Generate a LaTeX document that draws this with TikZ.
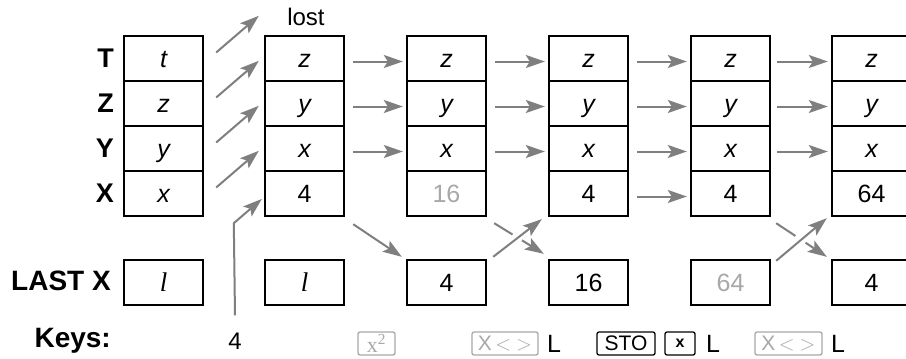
\documentclass[tikz,border=0pt]{standalone}
\usepackage{fontspec}
\setmainfont{Liberation Sans}
\newfontfamily\serifit{Liberation Serif}
\usetikzlibrary{arrows.meta,calc}
\definecolor{arrgray}{HTML}{7F7F7F}
\definecolor{txtgray}{HTML}{A8A8A8}
\begin{document}
\begin{tikzpicture}[x=1pt,y=-1pt,
  cell/.style={draw, line width=2.4pt, minimum width=79pt, minimum height=45pt,
    inner sep=0pt, text height=18pt, text depth=0pt, font=\fontsize{25}{27}\selectfont},
  arr/.style={draw=arrgray, line width=2pt, -{Stealth[length=19pt,width=13pt,inset=4pt]}},
  seg/.style={draw=arrgray, line width=2pt},
  lab/.style={font=\bfseries\fontsize{27}{30}\selectfont, anchor=base east, inner sep=0pt},
  biglab/.style={font=\bfseries\fontsize{28}{30}\selectfont, anchor=base east, inner sep=0pt},
  keybox/.style={draw, rounded corners=2pt, line width=1.3pt, minimum height=23pt,
    inner sep=0pt, font=\fontsize{21}{22}\selectfont},
  graykey/.style={keybox, draw=txtgray, text=txtgray},
  plain/.style={font=\fontsize{24}{26}\selectfont, anchor=base, inner sep=0pt},
  lkey/.style={font=\fontsize{25}{26}\selectfont, anchor=base, inner sep=0pt},
  ltr/.style={font=\serifit\itshape\fontsize{27}{28}\selectfont}]
\clip (0,0) rectangle (906,359);
\fill[white] (0,0) rectangle (906,359);

% row labels
\node[lab] (lT) at (114,67) {T};
\node[lab] (lZ) at (114,112) {Z};
\node[lab] (lY) at (114,157) {Y};
\node[lab] (lX) at (114,202) {X};
\node[biglab] (lL) at (111,290) {LAST X};
\node[biglab] (lK) at (111,347) {Keys:};
\node[plain] (lost) at (306,25) {lost};

% stack a
\node[cell] (a1) at (163.5,58.5) {\itshape t};
\node[cell] (a2) at (163.5,103.5) {\itshape z};
\node[cell] (a3) at (163.5,148.5) {\itshape y};
\node[cell] (a4) at (163.5,193.5) {\itshape x};
\node[cell, ltr] (aL) at (163.5,282.5) {l};
% stack b
\node[cell] (b1) at (304.5,58.5) {\itshape z};
\node[cell] (b2) at (304.5,103.5) {\itshape y};
\node[cell] (b3) at (304.5,148.5) {\itshape x};
\node[cell] (b4) at (304.5,193.5) {4};
\node[cell, ltr] (bL) at (304.5,282.5) {l};
% stack c
\node[cell] (c1) at (446.5,58.5) {\itshape z};
\node[cell] (c2) at (446.5,103.5) {\itshape y};
\node[cell] (c3) at (446.5,148.5) {\itshape x};
\node[cell, text=txtgray] (c4) at (446.5,193.5) {16};
\node[cell] (cL) at (446.5,282.5) {4};
% stack d
\node[cell] (d1) at (588.5,58.5) {\itshape z};
\node[cell] (d2) at (588.5,103.5) {\itshape y};
\node[cell] (d3) at (588.5,148.5) {\itshape x};
\node[cell] (d4) at (588.5,193.5) {4};
\node[cell] (dL) at (588.5,282.5) {16};
% stack e
\node[cell] (e1) at (730.5,58.5) {\itshape z};
\node[cell] (e2) at (730.5,103.5) {\itshape y};
\node[cell] (e3) at (730.5,148.5) {\itshape x};
\node[cell] (e4) at (730.5,193.5) {4};
\node[cell, text=txtgray] (eL) at (730.5,282.5) {64};
% stack f
\node[cell] (f1) at (871.5,58.5) {\itshape z};
\node[cell] (f2) at (871.5,103.5) {\itshape y};
\node[cell] (f3) at (871.5,148.5) {\itshape x};
\node[cell] (f4) at (871.5,193.5) {64};
\node[cell] (fL) at (871.5,282.5) {4};

% a -> b (diagonal, stack lift)
\foreach \i in {1,...,4}
  \draw[arr] ($(a\i.east)+(12,-6)$) -- ($(b\i.north west)+(-5,-19)$);
% b -> c
\foreach \i in {1,...,3}
  \draw[arr] ($(b\i.east)+(8,3)$) -- ($(c\i.west)+(-3,3)$);
% c -> d
\foreach \i in {1,...,3}
  \draw[arr] ($(c\i.east)+(8,3)$) -- ($(d\i.west)+(-3,3)$);
% d -> e
\foreach \i in {1,...,4}
  \draw[arr] ($(d\i.east)+(8,3)$) -- ($(e\i.west)+(-3,3)$);
% e -> f
\foreach \i in {1,...,3}
  \draw[arr] ($(e\i.east)+(6,3)$) -- ($(f\i.west)+(-3,3)$);

% b -> LAST X c
\draw[arr] ($(b4.south east)+(8,7)$) -- ($(cL.north west)+(-4,-2)$);

% crossing c/d
\coordinate (cdA) at ($(c4.south east)+(7,6)$);
\coordinate (cdB) at ($(dL.north west)+(-4,-5)$);
\draw[seg] (cdA) -- ($(cdA)!0.37!(cdB)$);
\draw[arr] ($(cdA)!0.56!(cdB)$) -- (cdB);
\draw[arr] ($(cL.north east)+(6,-2)$) -- ($(d4.south west)+(-6,2)$);

% crossing e/f
\coordinate (efA) at ($(e4.south east)+(5,6)$);
\coordinate (efB) at ($(fL.north west)+(-4,-2)$);
\draw[seg] (efA) -- ($(efA)!0.38!(efB)$);
\draw[arr] ($(efA)!0.58!(efB)$) -- (efB);
\draw[arr] ($(eL.north east)+(5,2)$) -- ($(f4.south west)+(-4,1)$);

% keys row
\node[plain] (k4) at (235,349) {4};
\draw[arr] ($(k4.north)+(0,-17)$) -- ($(b4.south west)+(-30,6)$) -- ($(b4.west)+(-2,5.5)$);
\node[graykey, minimum width=37pt, font=\fontsize{22}{22}\selectfont] (kx2) at (376.5,343.5) {\serifit x\textsuperscript{2}};
\node[graykey, minimum width=66pt] (kxy1) at (505,343.5) {X\,$<$\hspace{5pt}$>$};
\node[lkey] (kL1) at (554,352) {L};
\node[keybox, minimum width=58pt] (ksto) at (626,343.5) {STO};
\node[keybox, minimum width=30pt, font=\bfseries\fontsize{16}{16}\selectfont] (kmul) at (680,343.5) {x};
\node[lkey] (kL2) at (713,352) {L};
\node[graykey, minimum width=67pt] (kxy2) at (788.5,343.5) {X\,$<$\hspace{5pt}$>$};
\node[lkey] (kL3) at (838,352) {L};
\end{tikzpicture}
\end{document}
